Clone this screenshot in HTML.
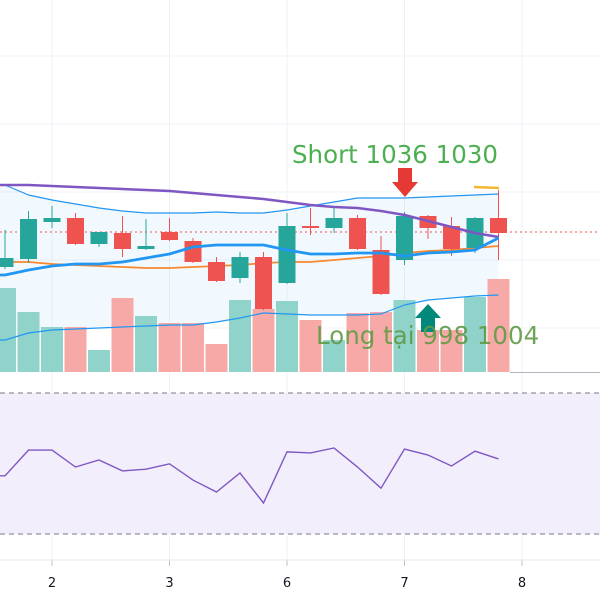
<!DOCTYPE html>
<html><head><meta charset="utf-8"><style>
html,body{margin:0;padding:0;background:#fff;width:600px;height:600px;overflow:hidden}
svg{display:block;font-family:"DejaVu Sans","Liberation Sans",sans-serif}
</style></head><body>
<svg id="chart" width="600" height="600"></svg>
<script>
const xLabels = ["2","3","6","7","8"];
const xLabelIdx = [2,7,12,17,22];
const opens  = [1000.5,1004.5,1023,1025,1012,1017.5,1009.5,1018,1013.5,1003,995,1005.5,992.5,1021,1020,1025,1009,1004,1026,1021,1010,1025];
const highs  = [1019,1028.5,1031,1027.5,1018,1026,1024.5,1025,1015,1005.5,1008,1008,1027.5,1030,1031,1026.5,1016,1028,1026.5,1025.5,1025.5,1039];
const lows   = [999.5,1002.5,1020,1011.5,1010.5,1005.5,1009,1013.5,1002.5,993,992.5,979,992,1016.5,1017.5,1009,986.5,1001.5,1014.5,1006,1007.5,1004];
const closes = [1005,1024.5,1025,1012,1018,1009.5,1011,1014,1003,993.5,1005.5,979.5,1021,1020,1025,1009.5,987,1026,1020,1009.5,1025,1017.5];
const volumes = [84,60,45,45,22,74,56,49,49,28,72,63,71,52,32,59,60,72,42,42,75,93];
const maSlow = [1041.5,1041.5,1041,1040.5,1040,1039.5,1039,1038.5,1037.5,1036.5,1035.5,1034.5,1033,1031.5,1030.5,1030,1028.5,1026.5,1023.5,1020.5,1017.5,1015.5];
const bbUpper = [1041.5,1036.5,1034,1032,1030,1028.5,1027.5,1027.5,1027.5,1028,1027.5,1027.5,1029,1031,1033,1035,1035,1035,1035.5,1036,1036.5,1037];
const bbMid = [996.5,999,1001,1002,1002,1003,1005,1007,1010.5,1011.5,1011.5,1011.5,1009,1007,1007,1007.5,1007.5,1006,1007.5,1008,1009,1015];
const maOrange = [1003,1003,1002,1001.5,1001,1000.5,1000,1000,1000.5,1001,1001.5,1002.5,1003,1003,1004,1005,1006,1007.5,1008.5,1009,1010,1011];
const bbLower = [964,967.5,969,969.5,970,970.5,971,971.5,971.5,973,975,977.5,977,976.5,976.5,976.5,977,981.5,984,985,986,986.5];
const rsi = [46.5,53.8,53.8,49.0,51.0,47.9,48.4,49.9,45.3,41.9,47.3,38.8,53.3,53.0,54.4,49.0,43.0,54.1,52.4,49.3,53.5,51.3];
const lastPrice = 1018;

const svg = document.getElementById('chart');
const NS = 'http://www.w3.org/2000/svg';
const X = i => 5 + i*23.5;
const Y = p => (1134 - p)*2;
const VY = v => 372 - v;
const RY = v => 393 + (70 - v)*141/40;
function mk(tag, attrs, parent){const e=document.createElementNS(NS,tag);for(const k in attrs)e.setAttribute(k,attrs[k]);(parent||svg).appendChild(e);return e;}

// grid
[56,124,192,260,328,429,499].forEach(y=>{const l=mk('line',{x1:0,x2:600,y1:y,y2:y,stroke:'#f0f3fa'});

});
// rsi background
const rb=mk('rect',{x:0,y:393,width:600,height:141,fill:'#f3eefc'});


xLabelIdx.forEach((ix,k)=>{const x=X(ix);
const g=mk('line',{x1:x,x2:x,y1:0,y2:560,stroke:'#eef0f6'});


const t=mk('text',{x:x,y:587,'text-anchor':'middle','font-size':13,fill:'#131722'});t.textContent=xLabels[k];


mk('line',{x1:x,x2:x,y1:560,y2:566,stroke:'#c0c3cc'});});
mk('line',{x1:0,x2:600,y1:560,y2:560,stroke:'#e6e8ee'});
[393,534].forEach(y=>{const d=mk('line',{x1:0,x2:600,y1:y,y2:y,stroke:'#787b86','stroke-dasharray':'5,4'});

});

// band fill
let pts=bbUpper.map((v,i)=>X(i)+','+Y(v)).join(' ')+' '+bbLower.map((v,i)=>X(i)+','+Y(v)).reverse().join(' ');
const bf=mk('polygon',{points:'0,'+Y(bbUpper[0])+' '+pts+' 0,'+Y(bbLower[0]),fill:'rgba(33,150,243,0.06)'});



// volume bars
volumes.forEach((v,i)=>{const up=closes[i]>=opens[i];
const r=mk('rect',{x:X(i)-11,y:VY(v),width:22,height:v,fill:up?'#8fd3ca':'#f7a9a7'});

});
mk('line',{x1:510,x2:600,y1:372.5,y2:372.5,stroke:'#b2b5be'});

// dotted last price
const lp=mk('line',{x1:0,x2:600,y1:Y(lastPrice),y2:Y(lastPrice),stroke:'#ef5350','stroke-dasharray':'2,3','stroke-width':1});



function line(arr,color,w,name,ext){const p=arr.map((v,i)=>X(i)+','+Y(v));if(ext)p.unshift('0,'+Y(arr[0]));
const l=mk('polyline',{points:p.join(' '),fill:'none',stroke:color,'stroke-width':w,'stroke-linejoin':'round'});

}
line(bbUpper,'#2196f3',1.2,'bollinger-upper',true);
line(bbLower,'#2196f3',1.2,'bollinger-lower',true);
line(maOrange,'#f7882f',1.8,'ma-orange',true);

// candles
opens.forEach((o,i)=>{const c=closes[i],up=c>=o,col=up?'#26a69a':'#ef5350',x=X(i);
const g=mk('g',{});


mk('line',{x1:x,x2:x,y1:Y(highs[i]),y2:Y(lows[i]),stroke:col,'stroke-width':1},g);
const t=Y(Math.max(o,c)),b=Y(Math.min(o,c));
mk('rect',{x:x-8.5,y:t,width:17,height:Math.max(b-t,1.5),fill:col},g);});

line(maSlow,'#7e57c2',2.5,'ma-purple',true);
line(bbMid,'#2196f3',2.8,'bollinger-middle',true);

// yellow marker
mk('line',{x1:474,x2:499,y1:187,y2:188,stroke:'#f5b731','stroke-width':2.5});

// rsi line
const rl=mk('polyline',{points:'0,'+RY(46.5)+' '+rsi.map((v,i)=>X(i)+','+RY(v)).join(' '),fill:'none',stroke:'#7e57c2','stroke-width':1.4});



// annotations
const sa=mk('path',{d:'M398,168 H412 V182 H418 L405,197 L392,182 H398 Z',fill:'#e53935'});


const st=mk('text',{x:292,y:163,'font-size':24.5,fill:'#4caf50'});st.textContent='Short 1036 1030';


const la=mk('path',{d:'M421,332 H435 V318 H441 L428,304 L415,318 H421 Z',fill:'#00897b'});


const lt=mk('text',{x:316,y:344,'font-size':24.5,fill:'#5f9a45','fill-opacity':0.9});lt.textContent='Long tại 998 1004';


</script>
</body></html>
